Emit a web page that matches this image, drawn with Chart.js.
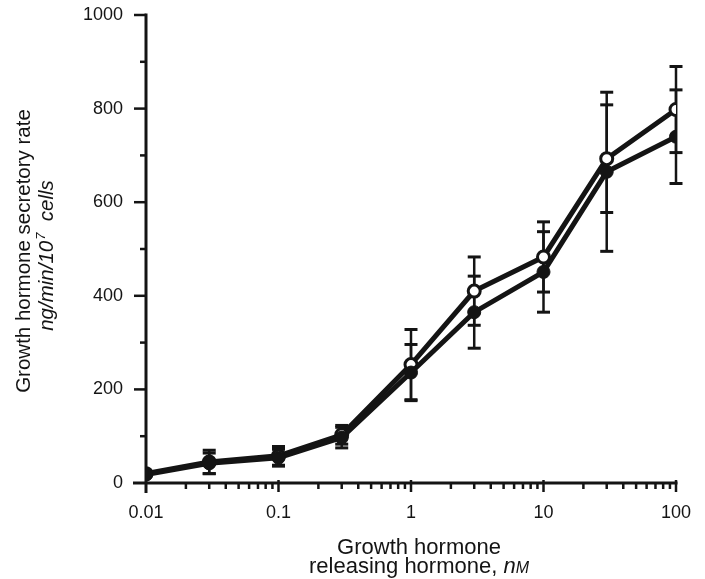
<!DOCTYPE html>
<html>
<head>
<meta charset="utf-8">
<script src="https://cdn.jsdelivr.net/npm/chart.js@4.4.1/dist/chart.umd.min.js"></script>
<style>
  html, body { margin: 0; padding: 0; background: #fff; }
  #wrap { width: 705px; height: 579px; }
</style>
</head>
<body>
<div id="wrap"><canvas id="c" width="705" height="579"></canvas></div>
<script>
// ---- data ----
const concentrations = [0.01, 0.03, 0.1, 0.3, 1, 3, 10, 30, 100];   // nM GHRH
const openMeans    = [20, 45, 58, 103, 253, 410, 483, 693, 798];
const openErrors   = [0, 25, 20, 20, 75, 73, 75, 115, 92];
const filledMeans  = [18, 42, 54, 97, 236, 365, 451, 665, 740];
const filledErrors = [0, 22, 18, 22, 60, 77, 86, 170, 100];
const xTickValues  = [0.01, 0.1, 1, 10, 100];
const xTickLabels  = ['0.01', '0.1', '1', '10', '100'];
const yTickValues  = [0, 200, 400, 600, 800, 1000];
const yTickLabels  = ['0', '200', '400', '600', '800', '1000'];
const yMinorValues = [100, 300, 500, 700, 900];

const ink = '#141414';
const FONT = '"Liberation Sans", Arial, Helvetica, sans-serif';

const xMinorValues = [];
for (let i = 0; i < xTickValues.length - 1; i++) {
  for (let k = 2; k <= 9; k++) xMinorValues.push(+(xTickValues[i] * k).toPrecision(6));
}

const pts = (means) => concentrations.map((c, i) => ({ x: c, y: means[i] }));

const axesPlugin = {
  id: 'axesPlugin',
  beforeDatasetsDraw(chart) {
    const { ctx, scales: { x, y } } = chart;
    const x0 = x.getPixelForValue(xTickValues[0]);
    const y0 = y.getPixelForValue(0);
    const yTop = y.getPixelForValue(1000);
    const xEnd = x.getPixelForValue(xTickValues[xTickValues.length - 1]);
    ctx.save();
    ctx.strokeStyle = ink;
    ctx.lineCap = 'butt';
    ctx.lineWidth = 3;
    ctx.beginPath(); ctx.moveTo(x0, yTop - 1.5); ctx.lineTo(x0, y0 + 10); ctx.stroke();
    ctx.beginPath(); ctx.moveTo(x0 - 13, y0); ctx.lineTo(xEnd + 1.5, y0); ctx.stroke();
    ctx.lineWidth = 2.5;
    yTickValues.forEach(v => {
      if (v === 0) return;
      const py = y.getPixelForValue(v);
      ctx.beginPath(); ctx.moveTo(x0 - 12, py); ctx.lineTo(x0, py); ctx.stroke();
    });
    yMinorValues.forEach(v => {
      const py = y.getPixelForValue(v);
      ctx.beginPath(); ctx.moveTo(x0 - 6, py); ctx.lineTo(x0, py); ctx.stroke();
    });
    xTickValues.forEach((v, i) => {
      if (i === 0) return;
      const px = x.getPixelForValue(v);
      ctx.beginPath(); ctx.moveTo(px, y0 - 3); ctx.lineTo(px, y0 + 9); ctx.stroke();
    });
    xMinorValues.forEach(v => {
      const px = x.getPixelForValue(v);
      ctx.beginPath(); ctx.moveTo(px, y0); ctx.lineTo(px, y0 + 6); ctx.stroke();
    });
    // error bars
    const sets = [[openMeans, openErrors], [filledMeans, filledErrors]];
    sets.forEach(([means, errs]) => {
      concentrations.forEach((c, i) => {
        const e = errs[i];
        if (!e) return;
        const px = x.getPixelForValue(c);
        const pt = y.getPixelForValue(means[i] + e);
        const pb = y.getPixelForValue(means[i] - e);
        ctx.lineWidth = 2.5;
        ctx.beginPath(); ctx.moveTo(px, pt); ctx.lineTo(px, pb); ctx.stroke();
        ctx.lineWidth = 3;
        ctx.beginPath(); ctx.moveTo(px - 6.5, pt); ctx.lineTo(px + 6.5, pt); ctx.stroke();
        ctx.beginPath(); ctx.moveTo(px - 6.5, pb); ctx.lineTo(px + 6.5, pb); ctx.stroke();
      });
    });
    ctx.restore();
  },
  afterDraw(chart) {
    const { ctx } = chart;
    ctx.save();
    ctx.fillStyle = ink;
    ctx.textBaseline = 'alphabetic';
    // Y title line 1 (rotated)
    ctx.save();
    ctx.translate(30, 251);
    ctx.rotate(-Math.PI / 2);
    ctx.font = '20.5px ' + FONT;
    ctx.textAlign = 'center';
    ctx.fillText('Growth hormone secretory rate', 0, 0);
    ctx.restore();
    // Y title line 2: ng/min/10^7 cells (italic)
    ctx.save();
    ctx.translate(53, 256);
    ctx.rotate(-Math.PI / 2);
    ctx.textAlign = 'left';
    const p1 = 'ng/min/10', sup = '7', p2 = '  cells';
    ctx.font = 'italic 20.5px ' + FONT;
    const w1 = ctx.measureText(p1).width, w3 = ctx.measureText(p2).width;
    ctx.font = 'italic 13px ' + FONT;
    const w2 = ctx.measureText(sup).width;
    let sx = -(w1 + w2 + w3) / 2;
    ctx.font = 'italic 20.5px ' + FONT;
    ctx.fillText(p1, sx, 0); sx += w1;
    ctx.font = 'italic 13px ' + FONT;
    ctx.fillText(sup, sx + 1, -8); sx += w2 + 1;
    ctx.font = 'italic 20.5px ' + FONT;
    ctx.fillText(p2, sx, 0);
    ctx.restore();
    // X title
    const xMid = 419;
    ctx.textAlign = 'center';
    ctx.font = '22px ' + FONT;
    ctx.fillText('Growth hormone', xMid, 554);
    const a = 'releasing hormone, ';
    const wa = ctx.measureText(a).width;
    ctx.font = 'italic 22px ' + FONT;
    const wn = ctx.measureText('n').width;
    ctx.font = 'italic 16px ' + FONT;
    const wm = ctx.measureText('M').width;
    let tx = xMid - (wa + wn + wm) / 2;
    ctx.textAlign = 'left';
    ctx.font = '22px ' + FONT;
    ctx.fillText(a, tx, 573); tx += wa;
    ctx.font = 'italic 22px ' + FONT;
    ctx.fillText('n', tx, 573); tx += wn;
    ctx.font = 'italic 16px ' + FONT;
    ctx.fillText('M', tx, 573);
    ctx.restore();
  }
};

new Chart(document.getElementById('c'), {
  type: 'line',
  data: {
    datasets: [
      {
        label: 'filled',
        data: pts(filledMeans),
        borderColor: ink,
        borderWidth: 5,
        backgroundColor: ink,
        pointBackgroundColor: ink,
        pointBorderColor: ink,
        pointBorderWidth: 1,
        pointRadius: 6.5,
        tension: 0,
        order: 0
      },
      {
        label: 'open',
        data: pts(openMeans),
        borderColor: ink,
        borderWidth: 5,
        backgroundColor: '#fff',
        pointBackgroundColor: '#fff',
        pointBorderColor: ink,
        pointBorderWidth: 3,
        pointRadius: 6,
        tension: 0,
        order: 1
      }
    ]
  },
  options: {
    responsive: false,
    animation: false,
    devicePixelRatio: 1,
    layout: { padding: { top: 15, right: 29, left: 0, bottom: 0 } },
    plugins: { legend: { display: false }, tooltip: { enabled: false } },
    scales: {
      x: {
        type: 'logarithmic',
        min: 0.01,
        max: 100,
        grid: { display: false, drawTicks: true, tickLength: 0 },
        border: { display: false },
        afterBuildTicks: s => { s.ticks = xTickValues.map(v => ({ value: v })); },
        afterFit: s => { s.height = 96; s.paddingLeft = 0; s.paddingRight = 0; },
        ticks: {
          autoSkip: false,
          maxRotation: 0,
          padding: 19,
          color: ink,
          font: { family: FONT, size: 18 },
          callback: (v) => { const i = xTickValues.findIndex(t => Math.abs(t - v) < 1e-9); return i >= 0 ? xTickLabels[i] : ''; }
        }
      },
      y: {
        type: 'linear',
        min: 0,
        max: 1000,
        grid: { display: false, drawTicks: true, tickLength: 0 },
        border: { display: false },
        afterBuildTicks: s => { s.ticks = yTickValues.map(v => ({ value: v })); },
        afterFit: s => { s.width = 146; s.paddingTop = 0; s.paddingBottom = 0; },
        ticks: {
          autoSkip: false,
          padding: 23,
          color: ink,
          font: { family: FONT, size: 18 },
          callback: (v) => { const i = yTickValues.indexOf(v); return i >= 0 ? yTickLabels[i] : ''; }
        }
      }
    }
  },
  plugins: [axesPlugin]
});
</script>
</body>
</html>
